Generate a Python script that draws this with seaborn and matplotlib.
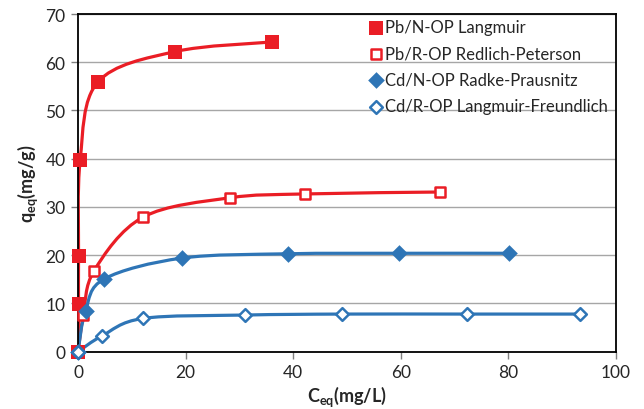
import numpy as np
import seaborn as sns
import matplotlib
matplotlib.use("Agg")
import matplotlib.pyplot as plt
from matplotlib.path import Path
from matplotlib.patches import PathPatch

# values
pb_n_x = [0, 0.1, 0.1, 0.4, 3.7, 18.0, 36.0]
pb_n_q = [0, 9.9, 19.9, 39.7, 55.9, 62.2, 64.2]
pb_r_x = [0, 1.0, 3.0, 12.1, 28.2, 42.2, 67.3]
pb_r_q = [0, 7.6, 16.8, 27.9, 31.9, 32.7, 33.1]
cd_n_x = [0, 1.4, 4.9, 19.3, 39.1, 59.6, 80.2]
cd_n_q = [0, 8.5, 15.1, 19.4, 20.3, 20.4, 20.4]
cd_r_x = [0, 4.5, 12.1, 31.1, 49.1, 72.3, 93.4]
cd_r_q = [0, 3.3, 6.9, 7.6, 7.8, 7.8, 7.8]

labels = ["Pb/N-OP Langmuir", "Pb/R-OP Redlich-Peterson",
          "Cd/N-OP Radke-Prausnitz", "Cd/R-OP Langmuir-Freundlich"]
x_ticks = [0, 20, 40, 60, 80, 100]
y_ticks = [0, 10, 20, 30, 40, 50, 60, 70]

RED = "#EA1D25"
BLUE = "#2E75B6"


def smooth_path(xs, ys):
    """Excel-style smoothed line (Catmull-Rom as cubic Bezier segments)."""
    pts = np.column_stack([xs, ys]).astype(float)
    n = len(pts)
    verts = [pts[0]]
    codes = [Path.MOVETO]
    for i in range(n - 1):
        p0 = pts[i - 1] if i > 0 else pts[i]
        p1 = pts[i]
        p2 = pts[i + 1]
        p3 = pts[i + 2] if i + 2 < n else pts[i + 1]
        c1 = p1 + (p2 - p0) / 6.0
        c2 = p2 - (p3 - p1) / 6.0
        verts += [c1, c2, p2]
        codes += [Path.CURVE4] * 3
    return Path(verts, codes)


sns.set_style("white")
plt.rcParams["font.family"] = ["Lato", "DejaVu Sans"]
plt.rcParams["mathtext.fontset"] = "custom"
plt.rcParams["mathtext.rm"] = "Lato"
plt.rcParams["mathtext.bf"] = "Lato:bold"

fig = plt.figure(figsize=(6.44, 4.10), dpi=100)
ax = fig.add_axes([78 / 644, 1 - 352.7 / 410, (616 - 78) / 644, (352.7 - 15) / 410])

series = [
    (pb_n_x, pb_n_q, RED, "s", True, 100),
    (pb_r_x, pb_r_q, RED, "s", False, 55),
    (cd_n_x, cd_n_q, BLUE, "D", True, 72),
    (cd_r_x, cd_r_q, BLUE, "D", False, 42),
]

for (xs, ys, col, mk, filled, size), lab in zip(series, labels):
    ax.add_patch(PathPatch(smooth_path(xs, ys), facecolor="none", edgecolor=col,
                           lw=2.3, zorder=2, capstyle="round"))
    sns.scatterplot(x=xs, y=ys, ax=ax, marker=mk, s=size,
                    facecolor=col if filled else "white", edgecolor=col,
                    linewidth=0 if filled else 1.8, label=lab, zorder=3,
                    clip_on=False)

ax.set_xlim(0, 100)
ax.set_ylim(0, 70)
ax.set_xticks(x_ticks)
ax.set_yticks(y_ticks)
ax.yaxis.grid(True, color="#A6A6A6", lw=1)
ax.set_axisbelow(True)
for sp in ax.spines.values():
    sp.set_color("black")
    sp.set_linewidth(1.3)
ax.tick_params(axis="both", direction="out", length=5, width=1, color="#808080",
               labelsize=12.5, labelcolor="#262626", pad=4, left=True, bottom=True)

ax.set_xlabel(r"$\mathbf{C_{eq}}$(mg/L)", fontsize=13, fontweight="bold", labelpad=2)
ax.set_ylabel(r"$\mathbf{q_{eq}}$(mg/g)", fontsize=13, fontweight="bold", labelpad=4)

leg = ax.legend(loc="upper right", bbox_to_anchor=(1.0, 1.01), frameon=False,
                fontsize=12, handletextpad=0.05, handlelength=1.0,
                labelspacing=0.62, borderaxespad=0.1)
for t in leg.get_texts():
    t.set_color("#262626")

fig.savefig("out.png", dpi=100)
